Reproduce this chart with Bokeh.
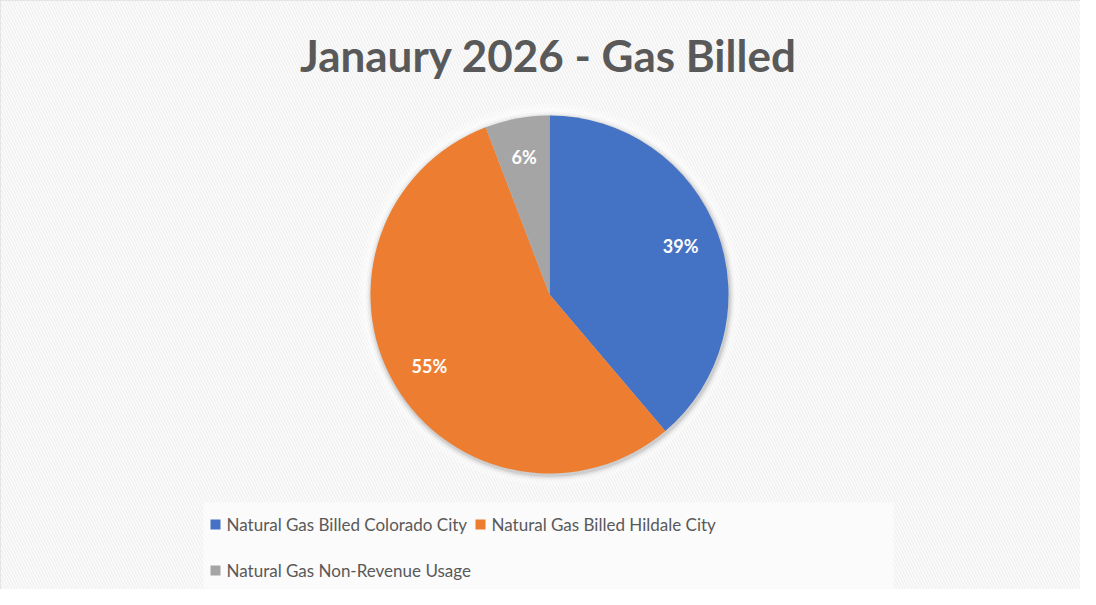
import numpy as np
from bokeh.plotting import figure
from bokeh.core.properties import value
from bokeh.embed import file_html
from bokeh.resources import INLINE

# ---- data ----
categories = ["Natural Gas Billed Colorado City",
              "Natural Gas Billed Hildale City",
              "Natural Gas Non-Revenue Usage"]
shares = [38.8, 55.4, 5.8]
colors = ["#4472C4", "#ED7D31", "#A5A5A5"]
title_text = "Janaury 2026 - Gas Billed"

# ---- layout (reference pixel coordinates) ----
W, H = 1080, 589
def X(px):
    return px
def Y(py):
    return H - py

p = figure(width=W, height=H, x_range=(0, W), y_range=(0, H),
           output_backend="svg", toolbar_location=None, min_border=0)
p.axis.visible = False
p.grid.visible = False
p.outline_line_color = "#d9d9d9"
p.outline_line_width = 2
p.background_fill_color = "white"
p.border_fill_color = "white"

# hatched background
p.quad(left=[0], right=[W], bottom=[0], top=[H], fill_color="white", line_color=None,
       hatch_pattern="left_diagonal_line", hatch_color="#f2f2f2",
       hatch_scale=6, hatch_weight=1.8)

# pie
cx, cy, r = X(549), Y(294), 179
frac = np.array(shares) / np.sum(shares)
cum_after = np.cumsum(frac)
cum_before = cum_after - frac
start = np.pi / 2 - 2 * np.pi * cum_before
end = np.pi / 2 - 2 * np.pi * cum_after

# soft shadow / glow
for k, a in [(12, 0.25), (8, 0.35)]:
    p.circle(x=[cx], y=[cy], radius=r + k, fill_color="white",
             fill_alpha=a, line_color=None)
for k, a in [(6, 0.025), (4, 0.04), (2.5, 0.055), (1.2, 0.07)]:
    p.circle(x=[cx + 1], y=[cy - 2], radius=r + k, fill_color="#000000",
             fill_alpha=a, line_color=None)

p.wedge(x=cx, y=cy, radius=r, start_angle=list(start), end_angle=list(end),
        direction="clock", fill_color=colors, line_color=None)

mid = np.pi / 2 - 2 * np.pi * (cum_before + frac / 2)
lx = cx + 0.78 * r * np.cos(mid)
ly = cy + 0.78 * r * np.sin(mid)
labels = [f"{round(s)}%" for s in shares]
p.text(x=list(lx), y=list(ly), text=labels, text_color="white",
       text_font=value("Lato"), text_font_style="bold",
       text_font_size=value("18px"), text_align="center", text_baseline="middle")

# title
p.text(x=[X(548)], y=[Y(54)], text=[title_text], text_color="#595959",
       text_font=value("Lato"), text_font_style="bold",
       text_font_size=value("44px"), text_align="center", text_baseline="middle")

# legend
p.quad(left=[X(203)], right=[X(893)], bottom=[Y(588)], top=[Y(502)],
       fill_color="#fbfbfb", line_color=None)
leg_sq_x = [X(215), X(480), X(215)]
leg_y = [Y(524), Y(524), Y(570)]
leg_tx = [X(226), X(491), X(226)]
p.rect(x=leg_sq_x, y=leg_y, width=10, height=10, fill_color=colors, line_color=None)
p.text(x=leg_tx, y=leg_y, text=categories, text_color="#595959",
       text_font=value("Lato"), text_font_size=value("17px"),
       text_align="left", text_baseline="middle")

open("out.html", "w").write(file_html(p, INLINE))
